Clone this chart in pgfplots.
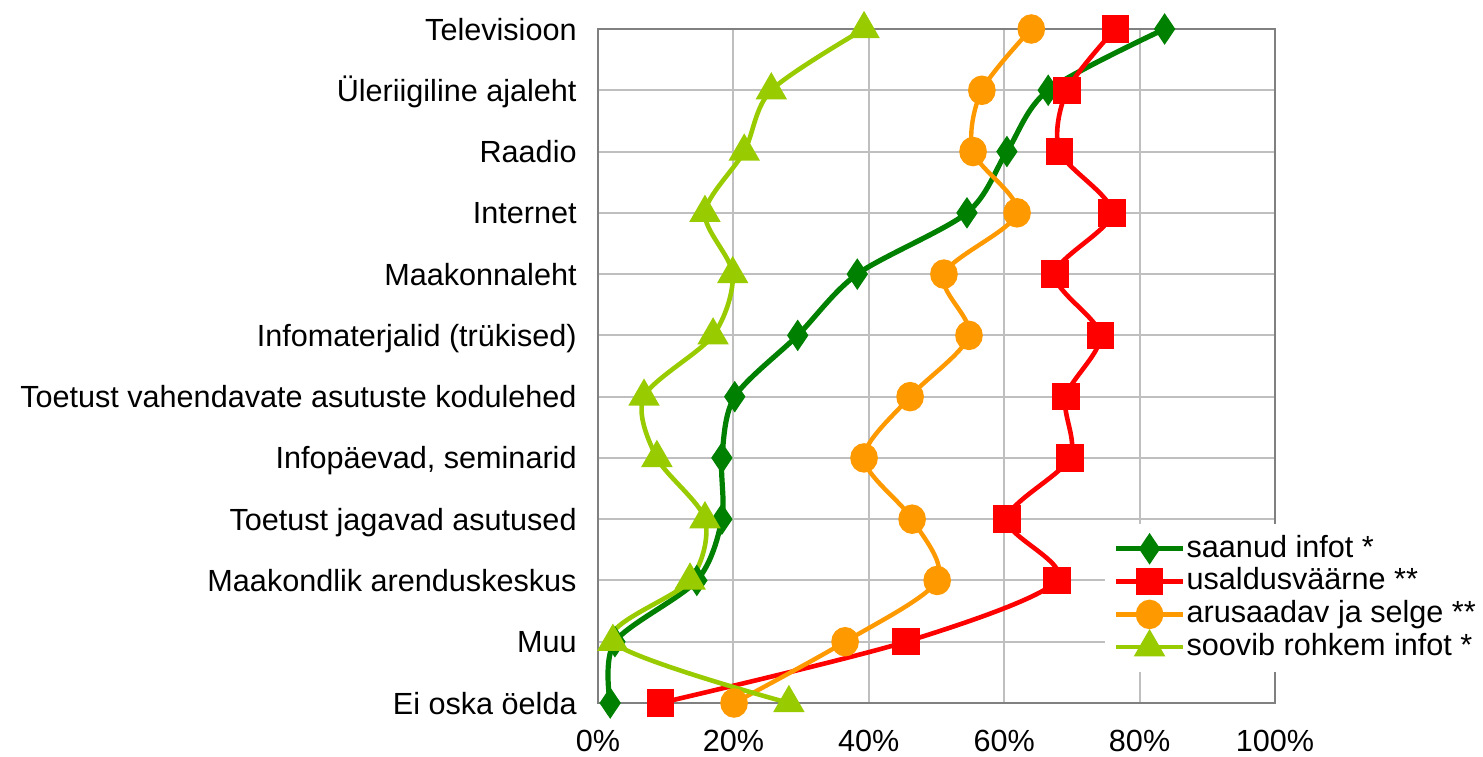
\documentclass[border=0pt]{standalone}
\usepackage{fontspec}
\setmainfont{Liberation Sans}
\usepackage{pgfplots}
\usepackage{pgfplotstable}
\pgfplotsset{compat=1.18}

\definecolor{cSaanud}{HTML}{008000}
\definecolor{cUsald}{HTML}{FF0000}
\definecolor{cArus}{HTML}{FF9900}
\definecolor{cSoovib}{HTML}{99CC00}

% idx 0 = Televisioon (top) ... 11 = Ei oska öelda (bottom)
\pgfplotstableread{
idx saanud usald arus soovib
0   83.7   76.4  64.0 39.3
1   66.5   69.3  56.7 25.6
2   60.4   68.2  55.4 21.6
3   54.5   75.9  61.9 15.8
4   38.3   67.5  51.1 19.9
5   29.5   74.2  54.8 17.0
6   20.2   69.1  46.1  6.8
7   18.3   69.7  39.3  8.7
8   18.3   60.4  46.4 15.8
9   14.6   67.8  50.1 13.6
10   2.5   45.5  36.5  2.2
11   1.8    9.2  20.1 28.2
}\data

\begin{document}
\begin{tikzpicture}
\path[use as bounding box] (-299pt,-26.5pt) rectangle (442.5pt,351.5pt);
\begin{axis}[
    scale only axis,
    width=338.5pt, height=337pt,
    xmin=0, xmax=100, ymin=0, ymax=11,
    y dir=reverse,
    clip=false,
    font=\fontsize{15.3}{18}\selectfont,
    xtick={0,20,40,60,80,100},
    xticklabel={\pgfmathprintnumber{\tick}\%},
    /pgf/number format/assume math mode=true,
    ytick={0,...,11},
    yticklabels={Televisioon,Üleriigiline ajaleht,Raadio,Internet,Maakonnaleht,
      Infomaterjalid (trükised),Toetust vahendavate asutuste kodulehed,
      {Infopäevad, seminarid},Toetust jagavad asutused,Maakondlik arenduskeskus,
      Muu,Ei oska öelda},
    major tick length=0pt,
    xmajorgrids, ymajorgrids,
    grid style={color=black!25, line width=1pt},
    axis line style={color=black!50, line width=1pt},
    x tick label style={anchor=base, inner sep=0pt, yshift=-24pt},
    y tick label style={anchor=base east, inner sep=0pt, xshift=-10.5pt, yshift=-5.5pt},
    legend style={at={(0.749,0.2656)}, anchor=north west, draw=none, fill=white,
      inner sep=4pt, row sep=0pt,
      nodes={inner sep=0.5pt, text height=11.8pt, text depth=3.6pt},
      font=\fontsize{15.3}{18}\selectfont},
    legend cell align=left,
    legend image code/.code={\draw[mark repeat=2,mark phase=2]
      plot coordinates {(0pt,0pt) (16.75pt,0pt) (33.5pt,0pt)};},
  ]
\addplot[cSaanud, line width=2.6pt, smooth, tension=0.5,
  mark=diamond*, mark size=5.6pt, mark options={solid, xscale=0.9}]
  table[x=saanud, y=idx] {\data};
\addlegendentry{saanud infot *}
\addplot[cUsald, line width=2.3pt, smooth, tension=0.5,
  mark=square*, mark size=5.7pt, mark options={solid}]
  table[x=usald, y=idx] {\data};
\addlegendentry{usaldusväärne **}
\addplot[cArus, line width=2.2pt, smooth, tension=0.5,
  mark=*, mark size=5.8pt, mark options={solid, yscale=1.08}]
  table[x=arus, y=idx] {\data};
\addlegendentry{arusaadav ja selge **}
\addplot[cSoovib, line width=2.3pt, smooth, tension=0.5,
  mark=triangle*, mark size=6.8pt, mark options={solid}]
  table[x=soovib, y=idx] {\data};
\addlegendentry{soovib rohkem infot *}
\end{axis}
\end{tikzpicture}
\end{document}
